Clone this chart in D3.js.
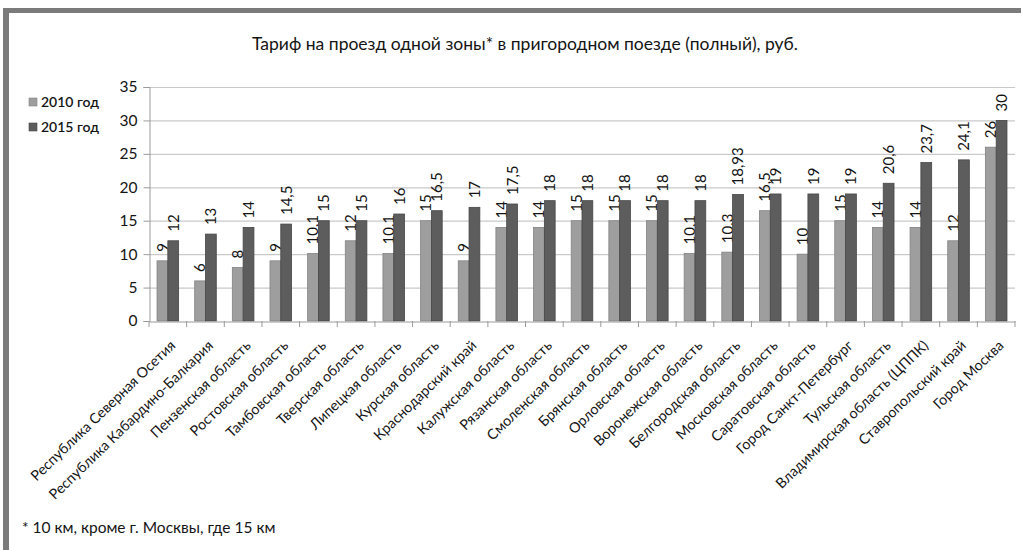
<!DOCTYPE html>
<html>
<head>
<meta charset="utf-8">
<script src="https://cdn.jsdelivr.net/npm/d3@7/dist/d3.min.js"></script>
<style>
  html, body { margin: 0; padding: 0; background: #fff; }
  svg { display: block; }
  text { font-family: Lato, "Open Sans", sans-serif; fill: #141414; }
</style>
</head>
<body>
<svg id="chart" width="1022" height="550"></svg>
<script>
const categories = [
  "Республика Северная Осетия",
  "Республика Кабардино-Балкария",
  "Пензенская область",
  "Ростовская область",
  "Тамбовская область",
  "Тверская область",
  "Липецкая область",
  "Курская область",
  "Краснодарский край",
  "Калужская область",
  "Рязанская область",
  "Смоленская область",
  "Брянская область",
  "Орловская область",
  "Воронежская область",
  "Белгородская область",
  "Московская область",
  "Саратовская область",
  "Город Санкт-Петербург",
  "Тульская область",
  "Владимирская область (ЦППК)",
  "Ставропольский край",
  "Город Москва"
];
const values2010 = [9, 6, 8, 9, 10.1, 12, 10.1, 15, 9, 14, 14, 15, 15, 15, 10.1, 10.3, 16.5, 10, 15, 14, 14, 12, 26];
const values2015 = [12, 13, 14, 14.5, 15, 15, 16, 16.5, 17, 17.5, 18, 18, 18, 18, 18, 18.93, 19, 19, 19, 20.6, 23.7, 24.1, 30];
const seriesNames = ["2010 год", "2015 год"];
const yTicks = [0, 5, 10, 15, 20, 25, 30, 35];
const titleText = "Тариф на проезд одной зоны* в пригородном поезде (полный), руб.";
const footnoteText = "* 10 км, кроме г. Москвы, где 15 км";

const svg = d3.select("#chart");
const W = 1022, H = 550;
const colors = ["#9e9e9e", "#5d5d5d"];
const strokes = ["#838383", "#464646"];

// frame
svg.append("rect").attr("x", 3).attr("y", 8).attr("width", 1018).attr("height", 5).attr("fill", "#7b7b7b");
svg.append("rect").attr("x", 3).attr("y", 8).attr("width", 6).attr("height", H - 8).attr("fill", "#7b7b7b");

const x0 = 149, x1 = 1015, yTop = 87, yBot = 321;
const x = d3.scaleBand().domain(categories).range([x0, x1]).paddingInner(0).paddingOuter(0);
const y = d3.scaleLinear().domain([0, 35]).range([yBot, yTop]);
const bw = 10.8;
const sub = d3.scaleBand().domain([0, 1]).range([-bw, bw]);

// title
svg.append("text").attr("x", 525).attr("y", 50).attr("text-anchor", "middle")
  .attr("font-size", 17.5).text(titleText);

// gridlines
svg.append("g").selectAll("line").data(yTicks.filter(d => d > 0)).join("line")
  .attr("x1", x0).attr("x2", x1).attr("y1", d => y(d) + 0.5).attr("y2", d => y(d) + 0.5)
  .attr("stroke", "#c9c9c9").attr("stroke-width", 1.2);

// y axis
const yAxis = d3.axisLeft(y).tickValues(yTicks).tickSize(6).tickPadding(6).tickFormat(d3.format("d"));
const gy = svg.append("g").attr("transform", `translate(${x0 + 0.5},0)`).call(yAxis);
gy.select(".domain").attr("stroke", "#9a9a9a");
gy.selectAll(".tick line").attr("stroke", "#9a9a9a");
gy.selectAll(".tick text").attr("font-size", 15.5).attr("fill", "#141414")
  .attr("font-family", "Lato, sans-serif");

// bars
const groups = svg.append("g").selectAll("g").data(categories).join("g")
  .attr("transform", d => `translate(${x(d) + x.bandwidth() / 2},0)`);
[values2010, values2015].forEach((vals, s) => {
  groups.append("rect")
    .attr("x", sub(s))
    .attr("width", sub.bandwidth())
    .attr("y", (d, i) => y(vals[i]))
    .attr("height", (d, i) => yBot - y(vals[i]))
    .attr("fill", colors[s])
    .attr("stroke", strokes[s]).attr("stroke-width", 0.8);
  groups.append("text")
    .attr("transform", (d, i) => `translate(${sub(s) + sub.bandwidth() / 2},${y(vals[i]) - 9}) rotate(-90)`)
    .attr("dy", "0.36em")
    .attr("text-anchor", "start")
    .attr("font-size", 15)
    .text((d, i) => String(vals[i]).replace(".", ","));
});

// x axis
const xAxis = d3.axisBottom(x).tickSize(0).tickFormat("");
const gx = svg.append("g").attr("transform", `translate(0,${yBot + 0.5})`).call(xAxis);
gx.select(".domain").attr("stroke", "#9a9a9a");
// boundary ticks
svg.append("g").selectAll("line").data(categories.concat([null])).join("line")
  .attr("x1", (d, i) => x0 + i * x.step()).attr("x2", (d, i) => x0 + i * x.step())
  .attr("y1", yBot).attr("y2", yBot + 6).attr("stroke", "#9a9a9a");

// category labels
svg.append("g").selectAll("text").data(categories).join("text")
  .attr("transform", d => `translate(${x(d) + x.bandwidth() / 2 + 5},${yBot + 22}) rotate(-44)`)
  .attr("text-anchor", "end")
  .attr("dy", "0.35em")
  .attr("font-size", 14.3)
  .text(d => d);

// legend
const lg = svg.append("g").selectAll("g").data(seriesNames).join("g")
  .attr("transform", (d, i) => `translate(29,${102 + i * 25})`);
lg.append("rect").attr("x", 0).attr("y", -4).attr("width", 8).attr("height", 8)
  .attr("fill", (d, i) => colors[i]).attr("stroke", (d, i) => strokes[i]).attr("stroke-width", 0.6);
lg.append("text").attr("x", 12).attr("dy", "0.35em").attr("font-size", 14).attr("font-weight", 600)
  .text(d => d);

// footnote
svg.append("text").attr("x", 22).attr("y", 533).attr("font-size", 15.5).text(footnoteText);
</script>
</body>
</html>
